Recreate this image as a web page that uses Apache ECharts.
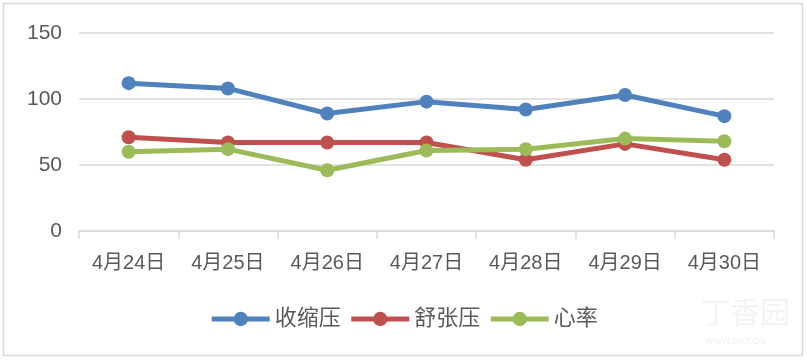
<!DOCTYPE html>
<html><head><meta charset="utf-8">
<script src="https://cdn.jsdelivr.net/npm/echarts@6/dist/echarts.min.js"></script>
<style>html,body{margin:0;padding:0;background:#fff}#c{width:807px;height:361px}</style>
</head><body><div id="c"></div>
<script>
var categories = ['4月24日','4月25日','4月26日','4月27日','4月28日','4月29日','4月30日'];
var systolic = [112, 108, 89, 98, 92, 103, 87];
var diastolic = [71, 67, 67, 67, 54, 66, 54];
var heartRate = [60, 62, 46, 61, 62, 70, 68];
var seriesNames = ['收缩压','舒张压','心率'];
var colors = ['#4f81bd','#c0504d','#9bbb59'];
var yTicks = [0, 50, 100, 150];

var chart = echarts.init(document.getElementById('c'));
var font = '"Liberation Sans", "Noto Sans CJK SC", sans-serif';
function mk(name, data, color){
  return {name:name, type:'line', data:data, symbol:'circle', symbolSize:14,
    lineStyle:{width:5,color:color}, itemStyle:{color:color}, animation:false};
}
chart.setOption({
  animation:false,
  textStyle:{fontFamily:font},
  graphic:[
    {type:'rect', shape:{x:3.5,y:3.5,width:799,height:352}, style:{fill:null, stroke:'#d9d9d9', lineWidth:1.5}, silent:true},
    {type:'text', left:700, top:300, style:{text:'丁香园', fontSize:30, fill:'#f3f3f3', fontFamily:font}, silent:true},
    {type:'text', left:705, top:337, style:{text:'WWW.DXY.CN', fontSize:9, fill:'#f0f0f0', fontFamily:font}, silent:true}
  ],
  grid:{left:79, right:33, top:33, bottom:130},
  legend:{top:303, left:'center', itemWidth:58, itemHeight:18, itemGap:8,
    lineStyle:{width:5},
    textStyle:{fontSize:22, color:'#595959', fontFamily:font},
    data:seriesNames},
  xAxis:{type:'category', data:categories, boundaryGap:true,
    axisLine:{lineStyle:{color:'#d9d9d9', width:1.5}},
    axisTick:{show:true, length:8, interval:0, lineStyle:{color:'#d9d9d9', width:1.5}},
    axisLabel:{fontSize:20, color:'#595959', margin:22, interval:0, fontFamily:font}},
  yAxis:{type:'value', min:yTicks[0], max:yTicks[yTicks.length-1], interval:50,
    axisLine:{show:false}, axisTick:{show:false},
    splitLine:{lineStyle:{color:'#d9d9d9', width:1.5}},
    axisLabel:{fontSize:21, color:'#595959', margin:17, fontFamily:font}},
  series:[mk(seriesNames[0], systolic, colors[0]), mk(seriesNames[1], diastolic, colors[1]), mk(seriesNames[2], heartRate, colors[2])]
});
</script></body></html>
